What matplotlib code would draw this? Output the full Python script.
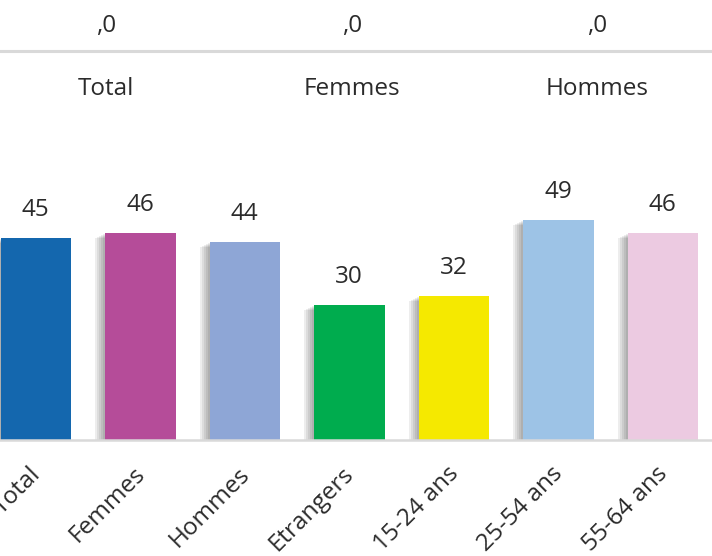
import numpy as np
import matplotlib.pyplot as plt
from matplotlib.lines import Line2D

# chart data
categories = ['Total', 'Femmes', 'Hommes', 'Etrangers', '15-24 ans', '25-54 ans', '55-64 ans']
values = [45, 46, 44, 30, 32, 49, 46]
colors = ['#1467AE', '#B54C99', '#8EA6D6', '#00AC4E', '#F5E900', '#9DC3E6', '#ECCAE1']

header_values = [',0', ',0', ',0']
header_labels = ['Total', 'Femmes', 'Hommes']

plt.rcParams['font.family'] = ['Open Sans', 'DejaVu Sans']
text_color = '#2b2b2b'
fs = 17.5

W, H = 712, 556
fig = plt.figure(figsize=(W / 100, H / 100), dpi=100)
ax = fig.add_axes([0, 0, 1, 1])

step = 104.5      # px between bars
ppu = 4.5         # px per value unit
x0 = 35.8         # px centre of first bar
base = 116        # px baseline from bottom

x = np.arange(len(categories))
width = 70.5 / step

# soft shadow to the left of each bar
for s in [2, 4, 6, 8, 10]:
    ax.bar(x - s / step, np.array(values) - s * 0.5 / ppu, width=width,
           color='black', alpha=0.07, linewidth=0, zorder=1)

ax.bar(x, values, width=width, color=colors, linewidth=0, zorder=2)

for xi, v in zip(x, values):
    ax.annotate(str(v), (xi, v), xytext=(0, 15.8), textcoords='offset points',
                ha='center', va='baseline', fontsize=fs, color=text_color)

ax.set_xlim(-x0 / step, -x0 / step + W / step)
ax.set_ylim(-base / ppu, -base / ppu + H / ppu)
ax.axhline(0, color='#D9D9D9', lw=1.8, zorder=3)
ax.axis('off')

# rotated category labels
for xi, lab in zip(x, categories):
    ax.annotate(lab, (xi, 0), xytext=(1, -22), textcoords='offset points',
                ha='right', va='center', rotation=45, rotation_mode='anchor',
                fontsize=fs, color=text_color)

# header rows above the chart
hx = [106, 352, 597]
for px, hv, hl in zip(hx, header_values, header_labels):
    fig.text(px / W, 1 - 26 / H, hv, ha='center', va='center', fontsize=fs, color=text_color)
    fig.text(px / W, 1 - 89 / H, hl, ha='center', va='center', fontsize=fs, color=text_color)
fig.add_artist(Line2D([0, 1], [1 - 50.5 / H, 1 - 50.5 / H], transform=fig.transFigure,
                      color='#D9D9D9', lw=2.2))

fig.savefig('out.png', dpi=100)
